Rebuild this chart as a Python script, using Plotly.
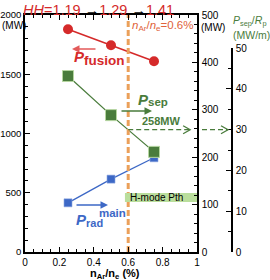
import plotly.graph_objects as go

# ---- data ----
n_ar = [0.25, 0.5, 0.75]                 # nAr/ne (%)
p_fusion = [1880, 1745, 1610]            # MW (left axis)
p_sep = [1485, 1155, 845]                # MW (left axis)
p_rad_main = [415, 615, 795]             # MW (left axis)
n_ar_ref = 0.6                           # nAr/ne = 0.6 %
p_sep_ref = 258                          # MW (right axis)
p_sep_rp_ref = 30                        # MW/m
pth_x = [0.581, 1.0]
pth_mw = [115, 115]                      # H-mode Pth (MW, right axis)
left_ticks = [0, 500, 1000, 1500, 2000]
right_ticks = [0, 100, 200, 300, 400, 500]
third_ticks = [0, 10, 20, 30, 40, 50]
x_ticks = [0, 0.2, 0.4, 0.6, 0.8, 1.0]
x_ticklabels = ["0", "0.2", "0.4", "0.6", "0.8", "1"]

FONT = "Liberation Sans, Arial, sans-serif"
RED = "#d52a2a"
GREEN = "#4a7c3c"
BLUE = "#3d68c6"
ORANGE = "#eba05a"

# layout geometry in pixels
L, TOP, BOT, PLOT_R, THIRD = 25, 15, 252, 197, 232
W = THIRD - L
H = BOT - TOP


def px(x):
    return (x - L) / W


def py(y):
    return (BOT - y) / H


fig = go.Figure()

fig.add_trace(go.Scatter(x=[None], y=[None], yaxis="y3", mode="lines",
                         line=dict(color="black"), showlegend=False, hoverinfo="skip"))
fig.add_trace(go.Scatter(x=pth_x, y=pth_mw, yaxis="y2", mode="lines",
                         line=dict(color="#bade9c", width=9), hoverinfo="skip", showlegend=False))
fig.add_trace(go.Scatter(x=n_ar, y=p_rad_main, mode="lines+markers",
                         line=dict(color=BLUE, width=1.3),
                         marker=dict(symbol="square", size=8, color=BLUE, line=dict(color="#8fa8e0", width=0.6)),
                         showlegend=False))
fig.add_trace(go.Scatter(x=n_ar, y=p_sep, mode="lines+markers",
                         line=dict(color=GREEN, width=1.3),
                         marker=dict(symbol="square", size=11, color=GREEN, line=dict(color="#b5d6a0", width=1)),
                         showlegend=False))
fig.add_trace(go.Scatter(x=n_ar, y=p_fusion, mode="lines+markers",
                         line=dict(color=RED, width=1.5),
                         marker=dict(symbol="circle", size=10, color=RED),
                         showlegend=False))
fig.add_trace(go.Scatter(x=[n_ar_ref, n_ar_ref], y=[0, 2000], mode="lines",
                         line=dict(color=ORANGE, width=3, dash="6px,3px"), showlegend=False))

# dashed 258 MW arrows
fig.add_shape(type="line", xref="x", yref="y2", x0=n_ar_ref, x1=0.96, y0=p_sep_ref, y1=p_sep_ref,
              line=dict(color=GREEN, width=1.3, dash="5px,3px"))
fig.add_shape(type="path", xref="x", yref="y2", xsizemode="pixel", ysizemode="pixel",
              xanchor=0.96, yanchor=p_sep_ref, path="M -7 -4 L 0 0 L -7 4",
              line=dict(color=GREEN, width=1.3))
fig.add_shape(type="line", xref="paper", yref="y2", x0=px(202), x1=px(228), y0=p_sep_ref, y1=p_sep_ref,
              line=dict(color=GREEN, width=1.3, dash="5px,3px"))
fig.add_shape(type="path", xref="paper", yref="y2", xsizemode="pixel", ysizemode="pixel",
              xanchor=px(228), yanchor=p_sep_ref, path="M -7 -4 L 0 0 L -7 4",
              line=dict(color=GREEN, width=1.3))

annotations = []


def ann(text, x, y, color="black", size=10, xanchor="left", yanchor="middle"):
    annotations.append(dict(text=text, x=px(x), y=py(y), xref="paper", yref="paper",
                            showarrow=False, xanchor=xanchor, yanchor=yanchor,
                            font=dict(family=FONT, size=size, color=color)))


def arrow(x_head, y, dx, color):
    annotations.append(dict(text="", x=px(x_head), y=py(y), xref="paper", yref="paper",
                            ax=dx, ay=0, showarrow=True, arrowhead=2, arrowsize=1,
                            arrowwidth=1.5, arrowcolor=color, standoff=0, startstandoff=0))


ann("<i>HH</i>=1.19 <span style='color:black'>→</span>1.29 <span style='color:black'>→</span>1.41",
    21, 10.5, RED, 14.5)
ann("(MW)", 14, 26, size=10, xanchor="center")
ann("(MW)", 199, 27, size=10)
ann("<i>n</i><sub>Ar</sub>/<i>n</i><sub>e</sub>=0.6%", 130, 26, "#e0633a", 11.5)
ann("<i>P</i><sub>sep</sub>/<i>R</i><sub>p</sub>", 231, 21, GREEN, 10.5)
ann("(MW/m)", 231, 35, GREEN, 10.5)
# P_fusion
ann("<b><i>P</i></b>", 72, 57, RED, 15)
ann("<b>fusion</b>", 82, 60, RED, 13.5)
# P_sep
ann("<b><i>P</i></b>", 136, 99, GREEN, 15)
ann("<b>sep</b>", 146, 102, GREEN, 11.5)
ann("<b>258MW</b>", 140, 121, GREEN, 11)
# P_rad^main
ann("<b><i>P</i></b>", 74, 219, BLUE, 15)
ann("<b>rad</b>", 84, 223, BLUE, 11)
ann("<b>main</b>", 97, 213, BLUE, 11.5)
ann("H-mode Pth", 128, 197, size=10)
ann("<b>n<sub>Ar</sub>/n<sub>e</sub> (%)</b>", 115, 274, size=11, xanchor="center")
arrow(72, 49, 25, "#e35a5a")
arrow(152, 111, -32, GREEN)
arrow(108, 205, -33, BLUE)

axis_common = dict(showgrid=False, zeroline=False, color="black",
                   ticks="inside", tickcolor="black", tickwidth=1, automargin=False)
tf = dict(family=FONT, size=10, color="black")

third_top = 50 * p_sep_ref / (500 * p_sep_rp_ref)   # fraction of height where 50 MW/m sits

fig.update_layout(
    width=270, height=280,
    margin=dict(l=L, r=270 - THIRD, t=TOP, b=280 - BOT, autoexpand=False, pad=0),
    paper_bgcolor="white", plot_bgcolor="rgba(0,0,0,0)",
    font=dict(family=FONT, color="black"),
    showlegend=False,
    annotations=annotations,
    xaxis=dict(domain=[0, (PLOT_R - L) / W], range=[0, 1], tickvals=x_ticks, ticktext=x_ticklabels,
               ticklen=5, minor=dict(dtick=0.05, ticklen=3, ticks="inside", tickcolor="black"),
               showline=True, linecolor="black", linewidth=1.5, mirror="ticks",
               tickfont=tf, **axis_common),
    yaxis=dict(range=[0, 2000], tickvals=left_ticks, ticklen=5,
               minor=dict(dtick=100, ticklen=3, ticks="inside", tickcolor="black"),
               showline=True, linecolor="black", linewidth=1.5, ticklabelstandoff=0,
               tickfont=dict(family=FONT, size=9.5, color="black"), **axis_common),
    yaxis2=dict(range=[0, 500], tickvals=right_ticks, overlaying="y", side="right", anchor="x",
                ticklen=5, minor=dict(dtick=20, ticklen=3, ticks="inside", tickcolor="black"),
                showline=True, linecolor="black", linewidth=1.5, ticklabelstandoff=1,
                tickfont=tf, **axis_common),
    yaxis3=dict(domain=[0, third_top], range=[0, 50], tickvals=third_ticks,
                side="right", anchor="free", position=1, ticklen=5,
                minor=dict(tickmode="array", tickvals=[5, 15, 25, 35, 45], ticklen=3,
                           ticks="inside", tickcolor="black"),
                showline=True, linecolor="black", linewidth=1.5, ticklabelstandoff=1,
                tickfont=tf, **axis_common),
)

fig.write_html("out.html", config={"displayModeBar": False},
               post_script="document.body.style.margin='0px';")
